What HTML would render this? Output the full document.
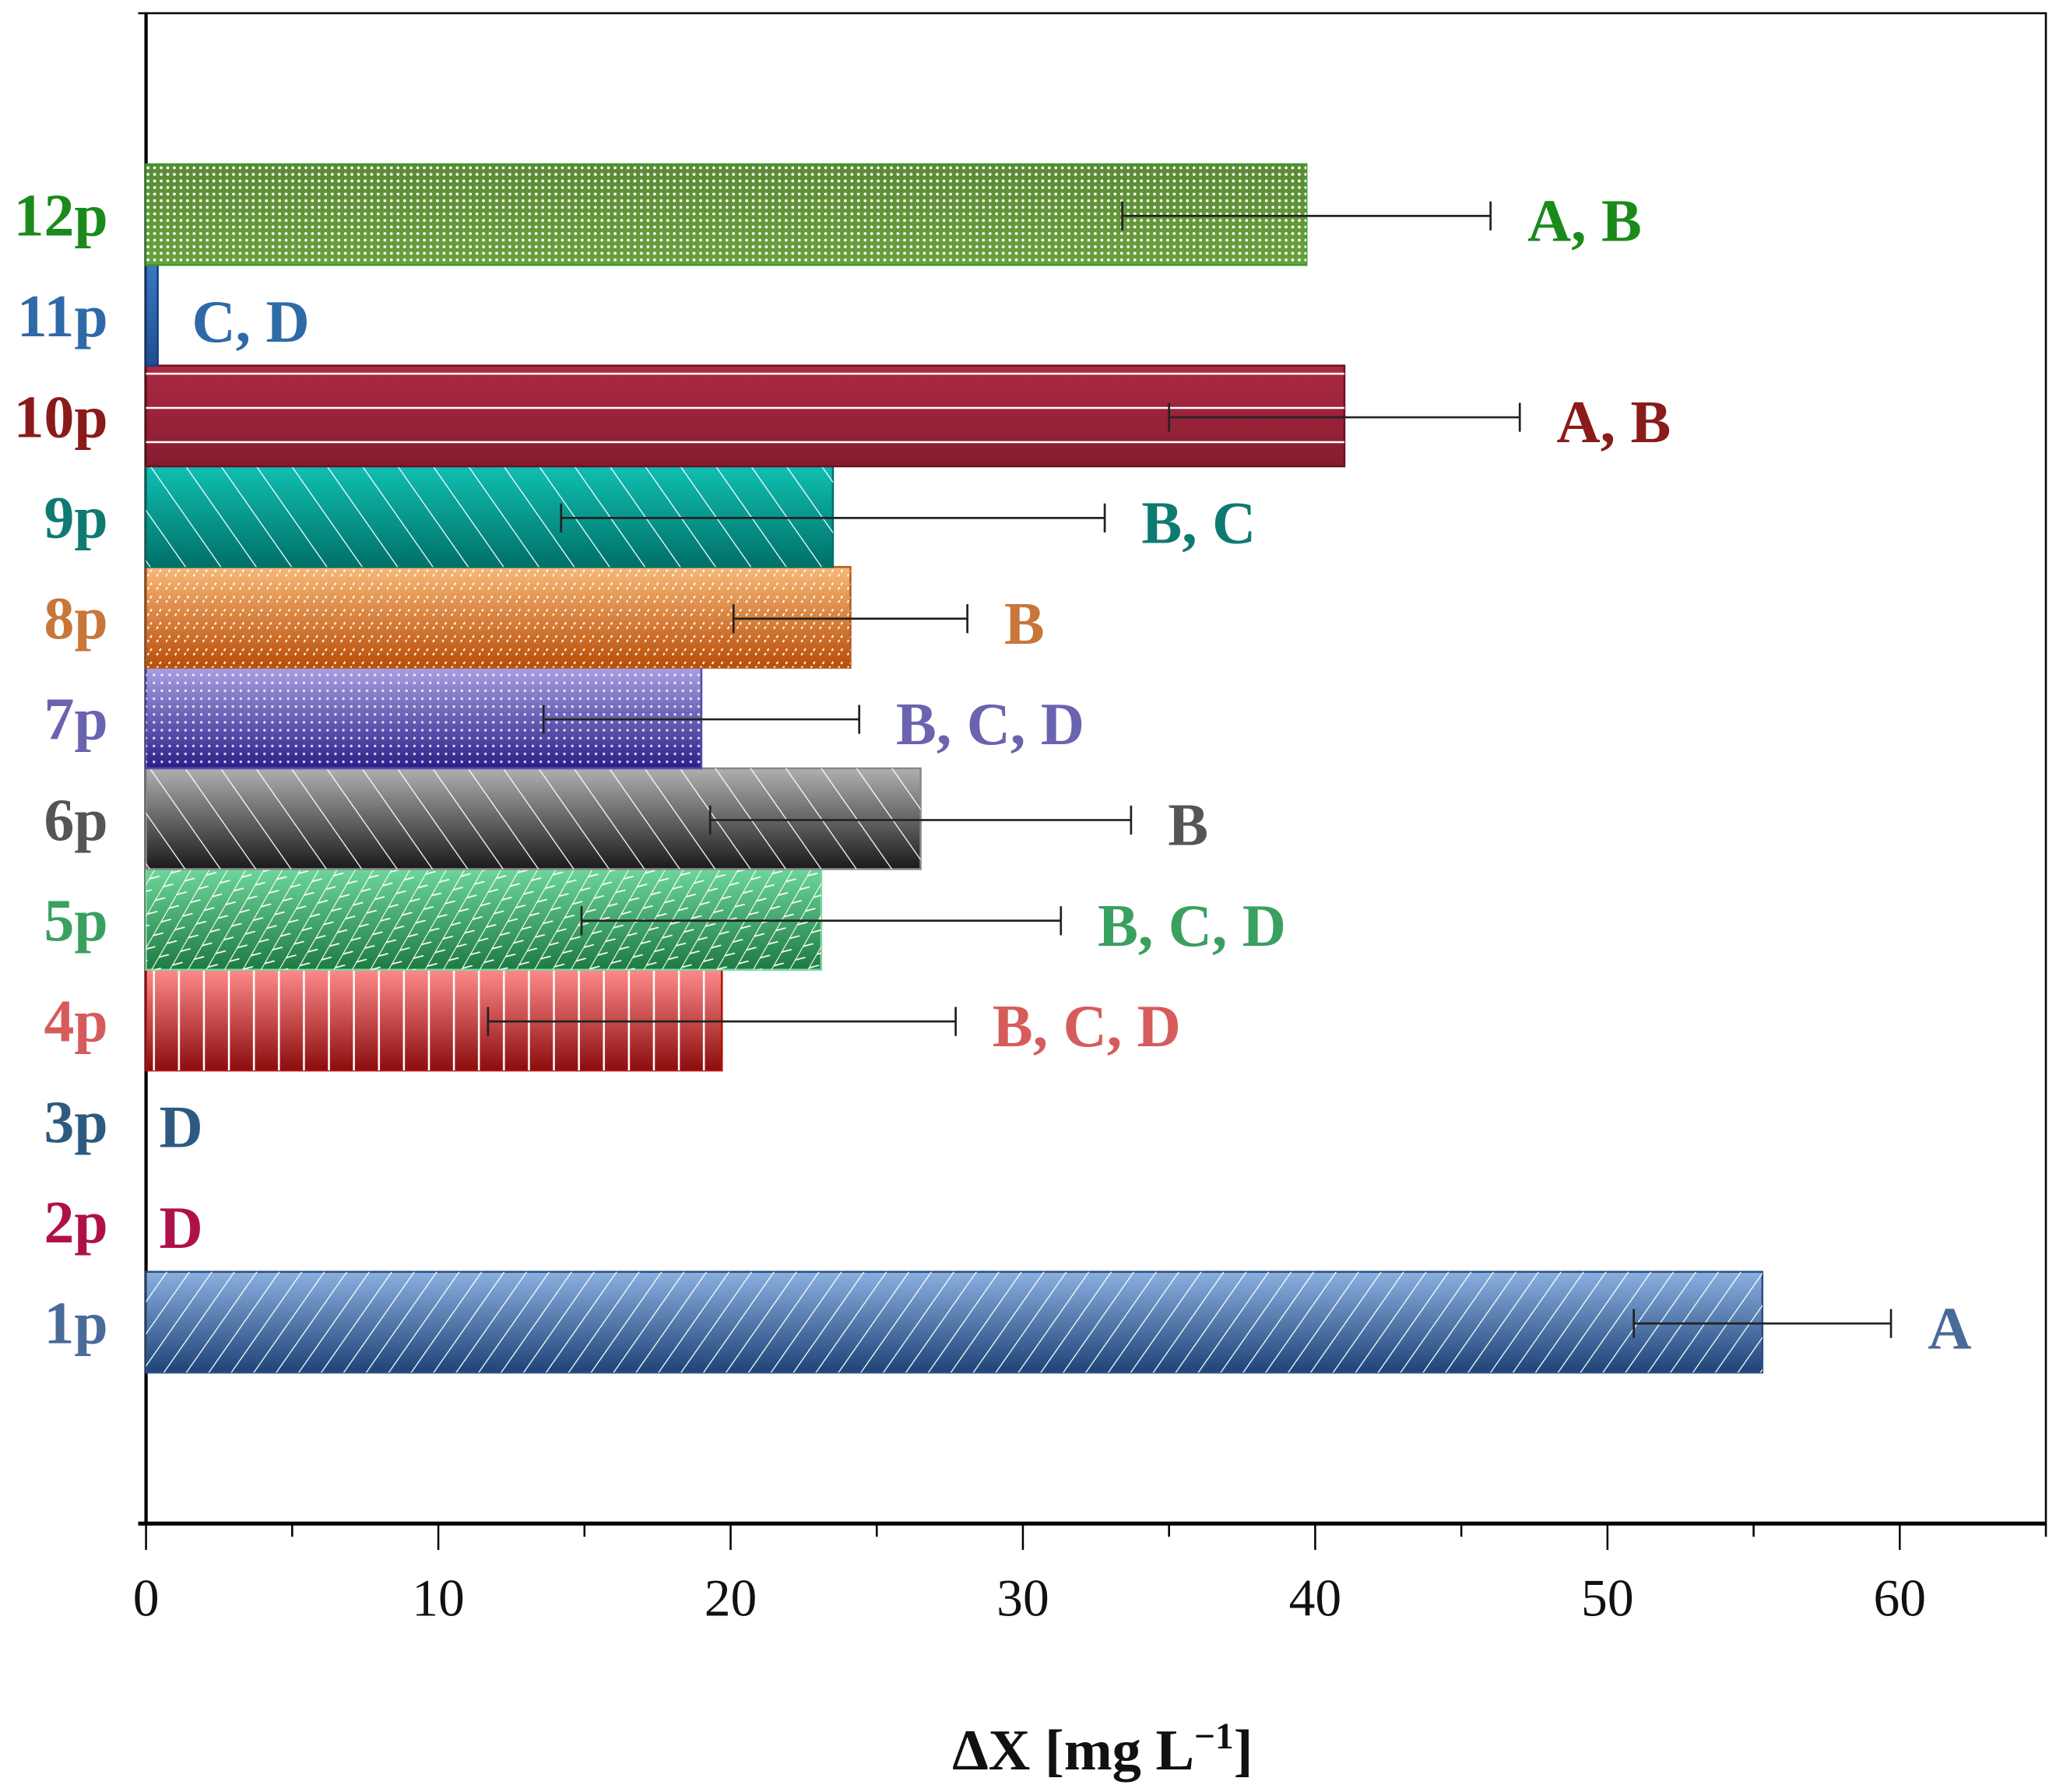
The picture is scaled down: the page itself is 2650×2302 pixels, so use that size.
<!DOCTYPE html>
<html><head><meta charset="utf-8"><style>html,body{margin:0;padding:0;background:#fff}svg{display:block}</style></head>
<body>
<svg id="chart" width="2650" height="2302" viewBox="0 0 1568 1362" xmlns="http://www.w3.org/2000/svg" font-family="'Liberation Serif', serif">
<defs>
  <pattern id="p-diag-r" width="14" height="14" patternUnits="userSpaceOnUse" patternTransform="rotate(35)"><line x1="0" y1="0" x2="0" y2="14" stroke="#fff" stroke-width="1.5"/></pattern>
  <pattern id="p-diag-l" width="22" height="22" patternUnits="userSpaceOnUse" patternTransform="rotate(-35)"><line x1="0" y1="0" x2="0" y2="22" stroke="#fff" stroke-width="1.5"/></pattern>
  <pattern id="p-vert" width="19" height="10" patternUnits="userSpaceOnUse"><line x1="3" y1="0" x2="3" y2="10" stroke="#fff" stroke-width="1.5"/></pattern>
  <pattern id="p-horiz" width="10" height="26" patternUnits="userSpaceOnUse"><line x1="0" y1="24" x2="10" y2="24" stroke="#fff" stroke-width="1.5"/></pattern>
  <pattern id="p-dots" width="5" height="5" patternUnits="userSpaceOnUse"><circle cx="2.5" cy="2.5" r="1.1" fill="#fff"/></pattern>
  <pattern id="p-dots-s" width="6" height="6" patternUnits="userSpaceOnUse"><circle cx="3" cy="3" r="1" fill="#fff" opacity="0.8"/></pattern>
  <pattern id="p-weave" width="12" height="12" patternUnits="userSpaceOnUse" patternTransform="rotate(30)"><line x1="0" y1="0" x2="0" y2="12" stroke="#fff" stroke-width="1.3"/><line x1="0" y1="6" x2="6" y2="0" stroke="#fff" stroke-width="1"/></pattern>
  <pattern id="p-zig" width="14" height="10" patternUnits="userSpaceOnUse"><path d="M0 8 L4 2 M7 8 L11 2" stroke="#fff" stroke-width="1.2" fill="none" stroke-dasharray="2 2"/></pattern>
</defs>
<g id="plot"></g>
</svg>
<script>
const categories = ["1p","2p","3p","4p","5p","6p","7p","8p","9p","10p","11p","12p"];
const values = [55.3, 0, 0, 19.7, 23.1, 26.5, 19.0, 24.1, 23.5, 41.0, 0.4, 39.7];
const errors = [4.4, 0, 0, 8.0, 8.2, 7.2, 5.4, 4.0, 9.3, 6.0, 0, 6.3];
const letters = ["A","D","D","B, C, D","B, C, D","B","B, C, D","B","B, C","A, B","C, D","A, B"];
const xTicks = [0,10,20,30,40,50,60];
const labelColors = ["#4a6a9a","#b0104a","#2e5a80","#d65c5c","#3aa060","#555555","#6a63b0","#c8763a","#0e7a72","#8b1a1a","#2e6aa8","#1a8a1a"];
const gradTop = ["#8ab0e0","#fff","#fff","#ff8a8a","#6dd69a","#b0b0b0","#a89fe0","#f8b878","#10bfb2","#ac2a42","#3a78c0","#5a8a34"];
const gradBot = ["#1e4478","#fff","#fff","#8c0c0c","#1e7a42","#1a1a1a","#2a2088","#b84e08","#007068","#861c30","#1e4e90","#6aa03c"];
const strokes = ["#2e4e80","#fff","#fff","#b01010","#7ad8a0","#888","#5550a8","#b85a18","#00706a","#6a1020","#163e80","#3a9a2a"];
const patterns = ["p-diag-r","","","p-vert","p-weave","p-diag-l","p-dots-s","p-zig","p-diag-l","p-horiz","","p-dots"];

const X0=111, X1=1555, Y0=1158, Y1=10;
const xs = v => X0 + (v-0)/(65-0)*(X1-X0);
const ys = v => Y0 - v/15*(Y0-Y1);
const NS="http://www.w3.org/2000/svg";
const svg=document.getElementById('chart');
const plot=document.getElementById('plot');
const defs=svg.querySelector('defs');
function mk(tag,attrs,parent){const e=document.createElementNS(NS,tag);for(const k in attrs)e.setAttribute(k,attrs[k]);(parent||plot).appendChild(e);return e;}

// frame
const frame=mk('rect',{x:X0,y:Y1,width:X1-X0,height:Y0-Y1,fill:'none',stroke:'#000','stroke-width':1.5});


const xaxis=mk('line',{x1:X0-6,y1:Y0,x2:X1,y2:Y0,stroke:'#000','stroke-width':3});


const yaxis=mk('line',{x1:X0,y1:Y1,x2:X0,y2:Y0,stroke:'#000','stroke-width':2.5});


mk('line',{x1:X0-6,y1:Y1,x2:X0,y2:Y1,stroke:'#000','stroke-width':1.5});

for(let v=0; v<=65; v+=5){
  const major = v%10===0;
  const t=mk('line',{x1:xs(v),y1:Y0,x2:xs(v),y2:Y0+(major?20:10),stroke:'#000','stroke-width':1.5});
  
  
}
xTicks.forEach(v=>{
  const t=mk('text',{x:xs(v),y:1228,'text-anchor':'middle','font-size':40,fill:'#111'});
  t.textContent=v;
  
  
});
const title=mk('text',{x:838,y:1345,'text-anchor':'middle','font-size':44,'font-weight':'bold',fill:'#111'});
title.innerHTML='ΔX [mg L<tspan dy="-16" font-size="28">−1</tspan><tspan dy="16">]</tspan>';



categories.forEach((c,i)=>{
  const cy=ys(i+2), h=ys(0)-ys(1);
  const g=mk('linearGradient',{id:'g'+i,x1:0,y1:0,x2:0,y2:1},defs);
  mk('stop',{offset:0,'stop-color':gradTop[i]},g);
  mk('stop',{offset:1,'stop-color':gradBot[i]},g);
  if(values[i]>0){
    const w=xs(values[i])-xs(0);
    const b=mk('rect',{x:xs(0),y:cy-h/2,width:w,height:h,fill:'url(#g'+i+')',stroke:strokes[i],'stroke-width':1.5});
    
    
    if(patterns[i]){
      const p=mk('rect',{x:xs(0),y:cy-h/2,width:w,height:h,fill:'url(#'+patterns[i]+')'});
      
      
    }
  }
  if(errors[i]>0){
    const ey=cy+1, lo=xs(values[i]-errors[i]), hi=xs(values[i]+errors[i]);
    const e=mk('path',{d:`M${lo} ${ey}H${hi}M${lo} ${ey-11}V${ey+11}M${hi} ${ey-11}V${ey+11}`,stroke:'#222','stroke-width':1.6,fill:'none'});
    
    
  }
  const t=mk('text',{x:82,y:cy+16,'text-anchor':'end','font-size':46,'font-weight':'bold',fill:labelColors[i]});
  t.textContent=c;
  
  
  const endv=Math.max(values[i]+errors[i], values[i]);
  const lx = endv>1 ? xs(endv)+28 : xs(endv)+(values[i]>0?26:10);
  const l=mk('text',{x:lx,y:cy+20,'font-size':46,'font-weight':'bold',fill:labelColors[i]});
  l.textContent=letters[i];
  
  
});
</script>
</body></html>
